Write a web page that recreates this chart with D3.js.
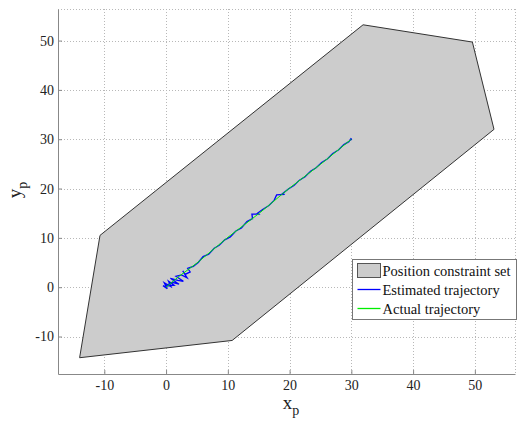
<!DOCTYPE html>
<html>
<head>
<meta charset="utf-8">
<script src="https://cdn.jsdelivr.net/npm/d3@7"></script>
<style>
body { margin: 0; background: #fff; }
</style>
</head>
<body>
<div id="chart"></div>
<script>
// data
var constraintSet = [[-14, -14.3], [10.7, -10.8], [53.1, 32], [49.6, 49.7], [31.9, 53.2], [-10.7, 10.5]];

var estimated = [[0, 0], [-0.5, 0.3], [0.2, -0.3], [-0.3, 0.9], [0.8, 0.1], [0.4, 1.2], [1.3, 0.4],
  [-0.2, 0.2], [1.0, 1.0], [2.1, 0.6], [0.7, 1.8], [1.9, 1.4], [2.8, 1.2], [1.6, 2.2], [2.5, 2.5],
  [3.4, 1.9], [2.7, 3.3], [3.1, 2.6], [3.9, 3.1], [3.5, 3.8], [4.4, 4.2], [5.2, 5.0], [6.0, 6.2],
  [6.9, 6.7], [7.8, 7.9], [8.6, 8.5], [9.5, 9.6], [10.4, 10.2], [11.3, 11.4], [12.2, 12.0],
  [13.1, 13.3], [14.0, 13.9], [13.9, 14.8], [15.0, 14.8], [14.8, 15.0], [15.7, 15.8], [16.6, 16.5],
  [17.5, 17.6], [17.9, 18.7], [19.2, 18.8], [18.8, 18.9], [19.8, 19.9], [20.7, 20.6], [21.6, 21.7],
  [22.5, 22.4], [23.4, 23.5], [24.3, 24.2], [25.2, 25.3], [26.1, 26.0], [27.0, 27.1], [27.9, 27.8],
  [28.8, 28.9], [29.6, 29.5], [30, 30.2], [29.8, 29.8], [30.1, 30.0]];

var actual = [[0, 0], [2, 2.1], [5, 4.9], [10, 10.1], [15, 14.9], [20, 20.1], [25, 24.9], [30, 30]];

var xTicks = [-10, 0, 10, 20, 30, 40, 50],
    yTicks = [-10, 0, 10, 20, 30, 40, 50];

var legendItems = ["Position constraint set", "Estimated trajectory", "Actual trajectory"];

var serif = "'Liberation Serif', 'Times New Roman', Times, 'DejaVu Serif', serif";
var width = 518, height = 422;
var margin = {left: 58, top: 9, right: 3, bottom: 48};

var svg = d3.select("#chart").append("svg")
    .attr("width", width)
    .attr("height", height)
    .attr("font-family", serif);

var x = d3.scaleLinear().domain([-17.5, 56.5]).range([margin.left, width - margin.right]);
var y = d3.scaleLinear().domain([-17.6, 56.4]).range([height - margin.bottom, margin.top]);

// dotted grid, including the top and right edges
var grid = svg.append("g").attr("class", "grid")
    .style("stroke", "#b8b8b8")
    .style("stroke-dasharray", "1,2")
    .style("shape-rendering", "crispEdges");
grid.selectAll("line.vx").data(xTicks.concat([56.5])).enter().append("line")
    .attr("x1", function(d) { return Math.round(x(d)) + 0.5; })
    .attr("x2", function(d) { return Math.round(x(d)) + 0.5; })
    .attr("y1", y(56.4)).attr("y2", y(-17.6));
grid.selectAll("line.hy").data(yTicks.concat([56.4])).enter().append("line")
    .attr("y1", function(d) { return Math.round(y(d)) + 0.5; })
    .attr("y2", function(d) { return Math.round(y(d)) + 0.5; })
    .attr("x1", x(-17.5)).attr("x2", x(56.5));

// constraint set
svg.append("path")
    .datum(constraintSet)
    .attr("d", function(d) { return "M" + d.map(function(p) { return x(p[0]) + "," + y(p[1]); }).join("L") + "Z"; })
    .style("fill", "#cccccc")
    .style("stroke", "#333")
    .style("stroke-width", 1);

var line = d3.line().x(function(d) { return x(d[0]); }).y(function(d) { return y(d[1]); });

svg.append("path").datum(estimated)
    .attr("d", line)
    .style("fill", "none")
    .style("stroke", "#0000ff")
    .style("stroke-width", 1.3);

svg.append("path").datum(actual)
    .attr("d", line)
    .style("fill", "none")
    .style("stroke", "#00ee00")
    .style("stroke-width", 1);

// axes
var fmt = function(d) { return String(d); };
var xAxis = svg.append("g")
    .attr("transform", "translate(0," + (height - margin.bottom) + ")")
    .call(d3.axisBottom(x).tickValues(xTicks).tickFormat(fmt).tickSizeInner(-4).tickSizeOuter(0).tickPadding(6));
var yAxis = svg.append("g")
    .attr("transform", "translate(" + margin.left + ",0)")
    .call(d3.axisLeft(y).tickValues(yTicks).tickFormat(fmt).tickSizeInner(-4).tickSizeOuter(0).tickPadding(4));
[xAxis, yAxis].forEach(function(a) {
  a.attr("font-family", serif).attr("font-size", 14);
  a.select(".domain").style("stroke", "#888");
  a.selectAll(".tick line").style("stroke", "#888");
  a.selectAll(".tick text").style("fill", "#222");
});

// axis labels
var xl = svg.append("text")
    .attr("x", 291).attr("y", 409)
    .attr("text-anchor", "middle")
    .style("font-size", "19px").style("fill", "#222");
xl.append("tspan").text("x");
xl.append("tspan").attr("dy", 6).style("font-size", "14px").text("p");

var yl = svg.append("text")
    .attr("transform", "translate(21,190) rotate(-90)")
    .attr("text-anchor", "middle")
    .style("font-size", "19px").style("fill", "#222");
yl.append("tspan").text("y");
yl.append("tspan").attr("dy", 6).style("font-size", "14px").text("p");

// legend
var legend = svg.append("g").attr("transform", "translate(352.5,259.5)");
legend.append("rect")
    .attr("width", 164).attr("height", 60)
    .style("fill", "#fff")
    .style("stroke", "#777");
var items = legend.selectAll("g.item").data(legendItems).enter().append("g")
    .attr("transform", function(d, i) { return "translate(0," + (11 + i * 19) + ")"; });
items.each(function(d, i) {
  var g = d3.select(this);
  if (i === 0) {
    g.append("rect").attr("x", 5).attr("y", -7).attr("width", 23).attr("height", 14)
      .style("fill", "#cccccc").style("stroke", "#555");
  } else {
    g.append("line").attr("x1", 5).attr("x2", 28).attr("y1", 0).attr("y2", 0)
      .style("stroke", i === 1 ? "#0000ff" : "#00ee00").style("stroke-width", 1.3);
  }
  g.append("text").attr("x", 30).attr("y", 5)
    .style("font-size", "14.5px").style("fill", "#111").text(d);
});
</script>
</body>
</html>
